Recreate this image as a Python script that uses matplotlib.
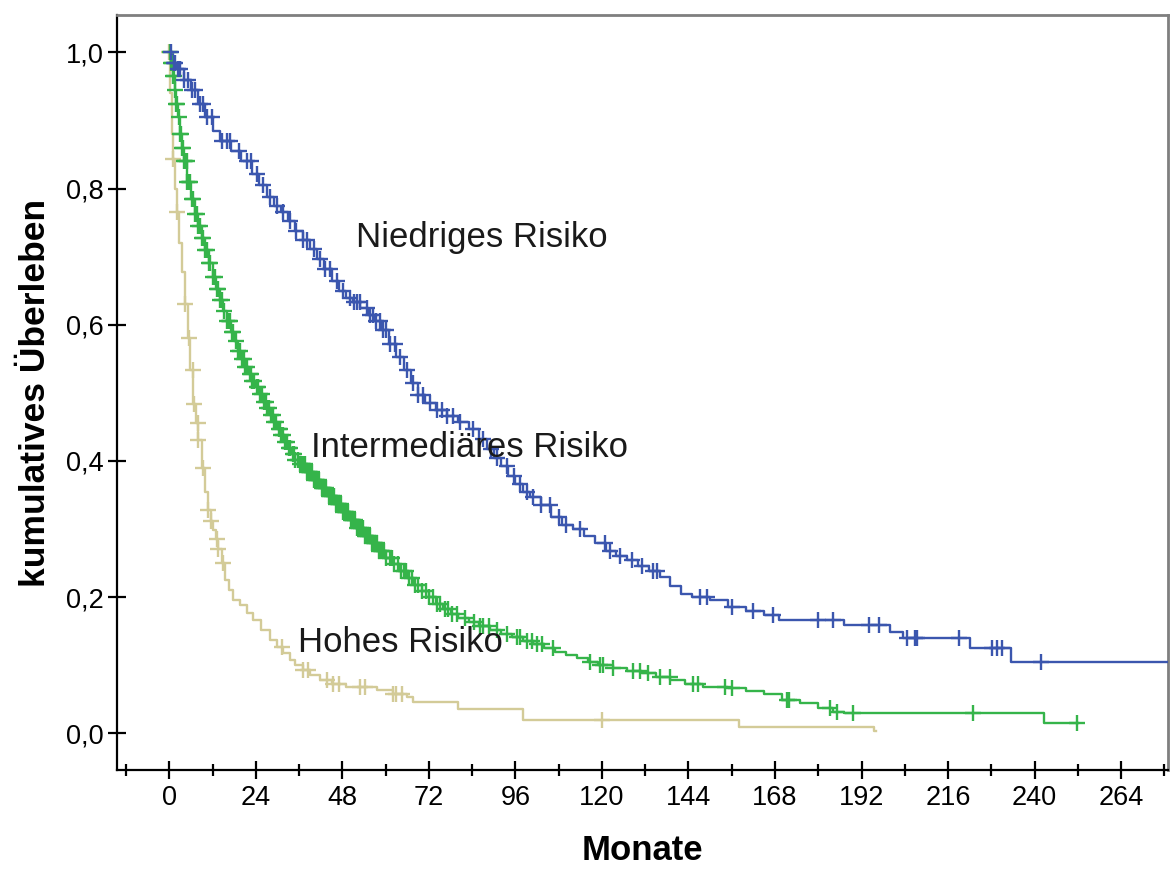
import numpy as np
import matplotlib
matplotlib.use("Agg")
import matplotlib.pyplot as plt
from matplotlib.ticker import FixedLocator, MultipleLocator

plt.rcParams['font.family'] = ['Liberation Sans', 'DejaVu Sans']

# ---------------- data ----------------
# Niedriges Risiko (blue)
low_t = [0, 1, 2, 4, 6, 8, 10, 12, 14, 17, 20, 23, 25, 27, 29, 31, 33, 35, 37, 39, 41, 43,
         45, 47, 49, 51, 53, 55, 57, 59, 61, 63, 65, 67, 69, 71, 74, 77, 80, 83, 86, 88, 90,
         92, 94, 96, 98, 100, 103, 106, 109, 112, 115, 118, 121, 124, 127, 130, 133, 136,
         139, 142, 145, 150, 155, 160, 165, 169, 187, 200, 203.5, 222, 233.5, 290]
low_s = [1.0, 0.985, 0.975, 0.96, 0.945, 0.925, 0.905, 0.885, 0.87, 0.855, 0.84, 0.822,
         0.805, 0.787, 0.775, 0.765, 0.752, 0.738, 0.725, 0.712, 0.697, 0.682, 0.665, 0.650,
         0.640, 0.633, 0.625, 0.615, 0.605, 0.592, 0.572, 0.552, 0.533, 0.515, 0.497, 0.485,
         0.475, 0.466, 0.457, 0.447, 0.432, 0.418, 0.405, 0.392, 0.378, 0.366, 0.355, 0.347,
         0.335, 0.318, 0.306, 0.300, 0.290, 0.279, 0.268, 0.261, 0.254, 0.246, 0.238, 0.230,
         0.216, 0.205, 0.200, 0.196, 0.186, 0.180, 0.173, 0.166, 0.159, 0.149, 0.140, 0.125,
         0.104, 0.104]
low_cens = [0.6, 1.2, 1.7, 2.4, 3, 4.2, 5.1, 6.4, 7.2, 8.6, 9.4, 10.6, 11.9, 14.5, 16, 16.9,
            19.2, 21.6, 22.8, 24.4, 26.1, 28, 29.9, 31.5, 33.5, 35.2, 37.1, 38.2, 40.1, 41.9,
            43.2, 44.6, 46.5, 48.3, 50.2, 51.2, 52.1, 52.9, 54.9, 55.6, 56.5, 57.4, 58.5,
            59.3, 60.2, 61.3, 62.7, 64, 65.8, 67.6, 69.1, 70.4, 72.2, 74.3, 75.6, 77, 78.7,
            80.7, 84.1, 87, 89.2, 90.9, 93.7, 95.5, 97.3, 99.1, 100.9, 103.2, 105.6, 108, 110,
            113.9, 120.8, 122.2, 125, 128.3, 131.1, 134.1, 135.2, 147.2, 149.1, 156, 161.9,
            167.4, 179.9, 184, 194, 196.8, 204.5, 206.8, 207.3, 219, 228.1, 229.5, 230.9,
            241.7]

# Intermediäres Risiko (green)
mid_t = [0, 0.5, 1, 1.5, 2, 2.5, 3, 3.5, 4, 5, 6, 7, 8, 9, 10, 11, 12, 13, 14, 15, 16, 17,
         18, 19, 20, 21, 22, 23, 24, 25, 26, 27, 28, 29, 30, 31, 32, 33, 34, 35, 36, 38, 40,
         42, 44, 46, 48, 50, 52, 54, 56, 58, 60, 62, 64, 66, 68, 70, 72, 74, 76, 78, 80, 83,
         86, 89, 92, 95, 98, 101, 104, 107, 110, 113, 116, 119, 123, 127, 131, 135, 139, 143,
         148, 155, 160, 165, 170, 175, 180, 184, 187, 242.5, 252]
mid_s = [1.0, 0.985, 0.965, 0.945, 0.925, 0.905, 0.88, 0.86, 0.84, 0.81, 0.785, 0.762,
         0.745, 0.728, 0.71, 0.69, 0.67, 0.652, 0.637, 0.62, 0.605, 0.59, 0.576, 0.562, 0.55,
         0.538, 0.528, 0.518, 0.508, 0.498, 0.487, 0.477, 0.467, 0.457, 0.447, 0.438, 0.428,
         0.419, 0.41, 0.402, 0.395, 0.383, 0.372, 0.36, 0.348, 0.336, 0.325, 0.313, 0.301,
         0.29, 0.279, 0.268, 0.258, 0.248, 0.238, 0.228, 0.218, 0.209, 0.2, 0.19, 0.182,
         0.175, 0.169, 0.163, 0.157, 0.151, 0.146, 0.141, 0.136, 0.131, 0.125, 0.12, 0.115,
         0.11, 0.105, 0.1, 0.096, 0.092, 0.088, 0.083, 0.078, 0.072, 0.068, 0.066, 0.062,
         0.057, 0.049, 0.044, 0.037, 0.031, 0.029, 0.015, 0.015]
mid_cens = [0.3, 0.5, 0.8, 1, 1.3, 1.7, 2.0, 2.2, 2.6, 3, 3.3, 3.6, 3.9, 4.2, 4.4, 4.8, 5,
            5.4, 5.8, 6.2, 6.7, 7.2, 7.6, 8, 8.5, 9.0, 9.4, 10.0, 10.5, 11.0, 11.4, 12.0,
            12.7, 13.1, 13.6, 14.2, 14.7, 15.3, 16, 16.5, 16.9, 17.3, 17.7, 18.4, 19.1, 19.6,
            20.2, 20.7, 21.1, 21.6, 22.3, 22.7, 23.0, 23.6, 24.2, 24.7, 25.1, 25.6, 26.3, 26.7,
            27.0, 27.6, 28.2, 28.7, 29.1, 29.6, 30.3, 30.7, 31.0, 31.6, 32.2, 32.7, 33.1, 33.6,
            34.3, 34.7, 35.0, 35.6, 36.2, 36.7, 37.1, 37.6, 38.3, 38.7, 39.0, 39.6, 40.2, 40.7,
            41.1, 41.6, 42.3, 42.7, 43.0, 43.6, 44.2, 44.7, 45.1, 45.6, 46.3, 46.7, 47.0, 47.6,
            48.2, 48.7, 49.1, 49.6, 50.3, 50.7, 51.0, 51.6, 52.2, 52.7, 53.1, 53.6, 54.3, 54.7,
            55.0, 55.6, 56.2, 56.7, 57.1, 57.6, 58.3, 58.7, 59.0, 59.6, 60.2, 61.1, 61.7, 62.3,
            63.5, 64.2, 65.0, 65.7, 66.6, 67.3, 68.2, 69.0, 70.1, 71.2, 72.0, 73.1, 74.3,
            75.2, 76.5, 77.4, 78.4, 79.8, 82, 84.5, 86.1, 87, 88.6, 90.9, 93.8, 96.5, 97.4,
            99.2, 100.6, 102, 103.4, 106.4, 116.7, 119.5, 120.3, 123, 128.6, 130.5, 132.8,
            136, 138.9, 145.2, 146.6, 154, 156, 171.3, 172, 183.2, 185.1, 189.6, 222.8, 251.7]

# Hohes Risiko (tan)
high_t = [0, 0.3, 0.7, 1.1, 1.6, 2.2, 2.8, 3.6, 4.4, 5.1, 5.8, 6.7, 7.4, 8, 9, 10, 10.8,
          11.5, 12.2, 13, 13.6, 14.5, 15.5, 16.5, 17.7, 19.7, 21.5, 23.3, 25.5, 28, 30, 31.6,
          33.5, 35, 37, 39, 41.9, 45, 49, 57.6, 62, 66, 67.6, 80, 98, 158, 195.5, 196]
high_s = [1.0, 0.94, 0.88, 0.843, 0.80, 0.765, 0.72, 0.677, 0.63, 0.58, 0.534, 0.483, 0.455,
          0.43, 0.39, 0.355, 0.328, 0.312, 0.299, 0.285, 0.27, 0.25, 0.225, 0.21, 0.196,
          0.188, 0.177, 0.166, 0.152, 0.137, 0.126, 0.118, 0.108, 0.1, 0.093, 0.085, 0.078,
          0.072, 0.068, 0.063, 0.058, 0.053, 0.046, 0.035, 0.019, 0.009, 0.004, 0.004]
high_cens = [0.05, 1.1, 2.2, 4.4, 5.6, 6.6, 6.8, 7.9, 8.1, 9.3, 10.8, 11.7, 13.2, 13.6, 15.0,
             31.3, 37, 38.4, 43.8, 45.4, 47, 52.9, 54.3, 62, 63, 64.5, 120]

x_ticks = [0, 24, 48, 72, 96, 120, 144, 168, 192, 216, 240, 264]
y_ticks = [0.0, 0.2, 0.4, 0.6, 0.8, 1.0]
y_tick_labels = ["0,0", "0,2", "0,4", "0,6", "0,8", "1,0"]

groups = [
    ("Niedriges Risiko", low_t, low_s, low_cens, "#3B56AE"),
    ("Intermediäres Risiko", mid_t, mid_s, mid_cens, "#35B44A"),
    ("Hohes Risiko", high_t, high_s, high_cens, "#D3CB98"),
]
labels_pos = {"Niedriges Risiko": (51.8, 0.728),
              "Intermediäres Risiko": (39.4, 0.42),
              "Hohes Risiko": (35.8, 0.134)}

# ---------------- figure ----------------
fig = plt.figure(figsize=(11.71, 8.69), dpi=100)
ax = fig.add_axes([117 / 1171, 1 - 770 / 869, (1168 - 117) / 1171, (770 - 15) / 869])

for name, t, s, cens, col in reversed(groups):
    ax.plot(t, s, drawstyle="steps-post", color=col, lw=1.7, zorder=3)
    t_arr = np.array(t)
    s_arr = np.array(s)
    idx = np.searchsorted(t_arr, np.array(cens), side="right") - 1
    ax.plot(cens, s_arr[idx], linestyle="none", marker="+", color=col,
            markersize=11, markeredgewidth=1.7, zorder=4)

for name, (tx, sy) in labels_pos.items():
    ax.text(tx, sy, name, fontsize=25, color="#1a1a1a", ha="left", va="center", zorder=5)

ax.set_xlim(-14.5, 277)
ax.set_ylim(-0.054, 1.055)
ax.xaxis.set_major_locator(FixedLocator(x_ticks))
ax.xaxis.set_minor_locator(MultipleLocator(12))
ax.set_yticks(y_ticks)
ax.set_yticklabels(y_tick_labels)

ax.tick_params(axis="both", which="major", direction="inout", length=13, width=1.6,
               labelsize=19.5, colors="black")
ax.tick_params(axis="x", which="minor", direction="inout", length=8, width=1.6)
ax.tick_params(axis="x", which="major", pad=4)
ax.tick_params(axis="y", which="major", pad=3)

for side in ["left", "bottom"]:
    ax.spines[side].set_color("black")
    ax.spines[side].set_linewidth(1.6)
for side in ["top", "right"]:
    ax.spines[side].set_color("#7f7f7f")
    ax.spines[side].set_linewidth(2)

ax.set_xlabel("Monate", fontsize=25, fontweight="bold", labelpad=17)
ax.set_ylabel("kumulatives Überleben", fontsize=25.5, fontweight="bold", labelpad=10)

fig.savefig("out.png", dpi=100)
